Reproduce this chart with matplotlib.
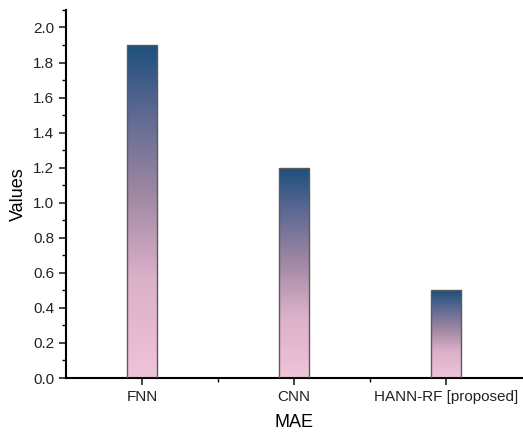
import matplotlib
matplotlib.use("Agg")
import matplotlib.pyplot as plt
import numpy as np
from matplotlib.colors import LinearSegmentedColormap
from matplotlib.patches import Rectangle
from matplotlib.ticker import MultipleLocator, FixedLocator

plt.rcParams['font.family'] = ['Liberation Sans', 'DejaVu Sans']

modelos = ["FNN", "CNN", "HANN-RF [proposed]"]
valores = [1.9, 1.2, 0.5]

cmap = LinearSegmentedColormap.from_list(
    "grad", [(0.0, "#efc3d8"), (0.3, "#dbb0c9"), (0.55, "#a088a3"),
             (0.8, "#5b6892"), (1.0, "#1d4f7c")])

fig = plt.figure(figsize=(5.23, 4.32), dpi=100)
ax = fig.add_axes([0.126, 0.125, 0.872, 0.852])

pos = np.arange(1, len(modelos) + 1)
ancho = 0.2
grad = np.linspace(0, 1, 256).reshape(-1, 1)
for x, v in zip(pos, valores):
    rect = Rectangle((x - ancho / 2, 0), ancho, v, facecolor="none",
                     edgecolor="#5a5a5a", linewidth=1.0, zorder=3)
    ax.add_patch(rect)
    im = ax.imshow(grad, cmap=cmap, aspect="auto", origin="lower",
                   extent=[x - ancho / 2, x + ancho / 2, 0, v], zorder=2)
    im.set_clip_path(rect)

ax.set_xlim(0.5, 3.5)
ax.set_ylim(0, 2.1)
ax.set_xticks(pos)
ax.set_xticklabels(modelos)
ax.xaxis.set_minor_locator(FixedLocator([1.5, 2.5]))
ax.yaxis.set_major_locator(MultipleLocator(0.2))
ax.yaxis.set_minor_locator(MultipleLocator(0.1))
ax.yaxis.set_major_formatter(plt.FormatStrFormatter("%.1f"))

for s in ["top", "right"]:
    ax.spines[s].set_visible(False)
for s in ["left", "bottom"]:
    ax.spines[s].set_linewidth(1.5)

ax.tick_params(which="major", length=5, width=1.2, labelsize=11, colors="#222222")
ax.tick_params(which="minor", length=3, width=1.0)

ax.set_xlabel("MAE", fontsize=13, labelpad=7)
ax.set_ylabel("Values", fontsize=13)

fig.savefig("out.png", dpi=100)
